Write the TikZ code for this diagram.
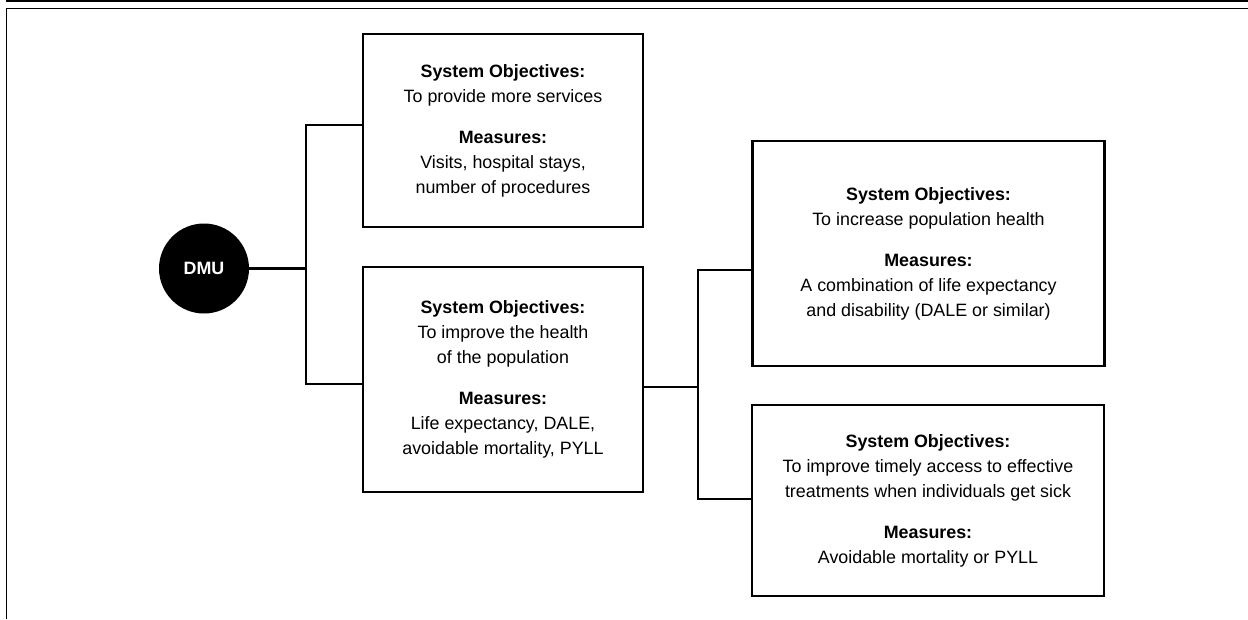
\documentclass[tikz,border=0pt]{standalone}
\usepackage{fontspec}
\setmainfont{Liberation Sans}
\begin{document}
\begin{tikzpicture}[x=0.75pt,y=-0.75pt,
  txt/.style={font=\fontsize{13.4}{18.75}\selectfont},
  objbox/.style={txt, draw, line width=1.9pt, align=center, inner sep=0pt},
  boxsize/.style 2 args={minimum width=#1*0.75pt, minimum height=#2*0.75pt},
  link/.style={line width=1.65pt},
  rule/.style={line width=#1}
]
\useasboundingbox (0,0) rectangle (1248,619);

% page rules
\draw[rule=1.5pt] (6,1) -- (1248,1);
\draw[rule=0.75pt] (6.5,619) -- (6.5,8) -- (1248,8);

% decision-making unit
\node[circle, fill=black, minimum size=90*0.75pt, inner sep=0pt, txt, text=white, font=\fontsize{13.4}{16}\selectfont\bfseries] (dmu) at (204,268.5) {DMU};

% objective boxes
\node[objbox, boxsize={280}{193}] (box1) at (503,130.5)
  {\textbf{System Objectives:}\\ To provide more services\\[12pt]
   \textbf{Measures:}\\ Visits, hospital stays,\\ number of procedures};
\node[objbox, boxsize={280}{225}] (box2) at (503,379.5)
  {\textbf{System Objectives:}\\ To improve the health\\ of the population\\[12pt]
   \textbf{Measures:}\\ Life expectancy, DALE,\\ avoidable mortality, PYLL};
\node[objbox, boxsize={352}{225}] (box3) at (928.5,253.5)
  {\textbf{System Objectives:}\\ To increase population health\\[12pt]
   \textbf{Measures:}\\ A combination of life expectancy\\ and disability (DALE or similar)};
\node[objbox, boxsize={352}{191}] (box4) at (928,500.5)
  {\textbf{System Objectives:}\\ To improve timely access to effective\\ treatments when individuals get sick\\[12pt]
   \textbf{Measures:}\\ Avoidable mortality or PYLL};

% branching connectors
\coordinate (t1) at (306,125);
\coordinate (t2) at (306,384);
\coordinate (t3) at (698,270);
\coordinate (t4) at (698,499);
\coordinate (t5) at (698,387);

\draw[link] (dmu.east) -- (dmu.east -| t1);
\draw[link] (box1.west |- t1) -- (t1) -- (t2) -- (box2.west |- t2);
\draw[link] (box2.east |- t5) -- (t5);
\draw[link] (box3.west |- t3) -- (t3) -- (t4) -- (box4.west |- t4);
\end{tikzpicture}
\end{document}
